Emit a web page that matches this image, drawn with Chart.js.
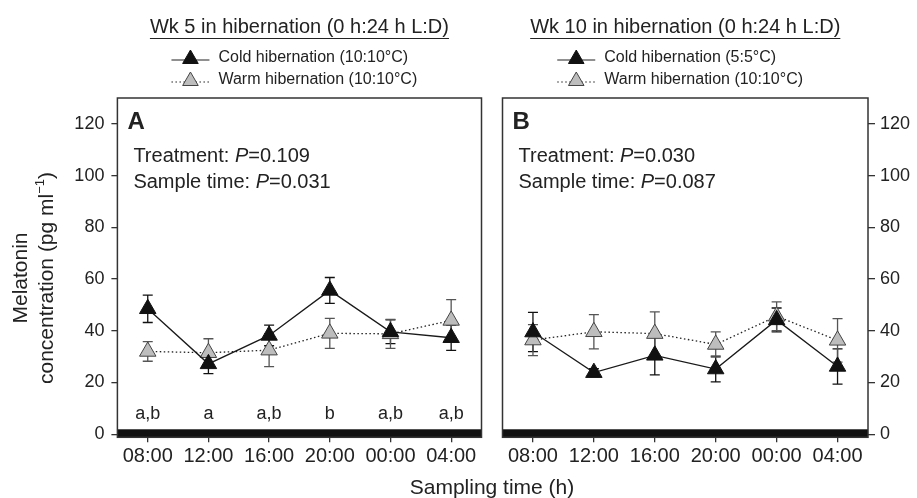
<!DOCTYPE html>
<html>
<head>
<meta charset="utf-8">
<script src="https://cdn.jsdelivr.net/npm/chart.js@4.4.1/dist/chart.umd.min.js"></script>
<style>
  body { margin: 0; background: #fff; }
  #wrap { position: relative; width: 917px; height: 498px; overflow: hidden; }
  #boxA { position: absolute; left: 0; top: 0; }
  #boxB { position: absolute; left: 492px; top: 0; }
  #xTitle { position: absolute; left: 342px; width: 300px; top: 475px; text-align: center;
            font: 21px 'Liberation Sans', Arial, Helvetica, sans-serif; line-height: 24px; color: #222; }
</style>
</head>
<body>
<div id="wrap">
  <div id="boxA"><canvas id="chartA" width="492" height="498"></canvas></div>
  <div id="boxB"><canvas id="chartB" width="425" height="498"></canvas></div>
  <div id="xTitle">Sampling time (h)</div>
</div>
<script>
// data
const times = ['08:00', '12:00', '16:00', '20:00', '00:00', '04:00'];
const yTicks = [0, 20, 40, 60, 80, 100, 120];

const coldA = [48.5, 27.2, 38.2, 55.6, 39.6, 37.3];
const coldAErr = [5.3, 3.8, 4.0, 5.0, 4.6, 4.9];
const warmA = [32.0, 31.5, 32.5, 39.0, 38.8, 44.0];
const warmAErr = [3.8, 5.4, 6.4, 5.8, 5.6, 8.0];

const coldB = [39.5, 23.8, 30.5, 25.2, 44.2, 26.2];
const coldBErr = [7.6, 1.5, 7.6, 5.0, 4.6, 6.8];
const warmB = [36.4, 39.6, 38.9, 34.7, 45.6, 36.3];
const warmBErr = [6.0, 6.6, 8.4, 4.9, 5.6, 8.4];

const lettersA = ['a,b', 'a', 'a,b', 'b', 'a,b', 'a,b'];

const FONT = "'Liberation Sans', Arial, Helvetica, sans-serif";
Chart.defaults.font.family = FONT;
Chart.defaults.color = '#222';

function coldSet(label, data, errors) {
    return {
        label: label, data: data, errors: errors, errorColor: '#111',
        borderColor: '#1a1a1a', borderWidth: 1.3, tension: 0,
        pointStyle: 'triangle', pointRadius: 9.5, pointHoverRadius: 9.5,
        pointBackgroundColor: '#111', pointBorderColor: '#111', pointBorderWidth: 1
    };
}

function warmSet(label, data, errors) {
    return {
        label: label, data: data, errors: errors, errorColor: '#555',
        borderColor: '#222', borderWidth: 1.3, borderDash: [1.5, 2.5], tension: 0,
        pointStyle: 'triangle', pointRadius: 9.5, pointHoverRadius: 9.5,
        pointBackgroundColor: '#bdbdbd', pointBorderColor: '#444', pointBorderWidth: 1
    };
}

// dark-phase bar along the bottom + error bars behind the markers
const backLayer = {
    id: 'backLayer',
    beforeDatasetsDraw(chart) {
        const { ctx, chartArea, scales: { y } } = chart;
        ctx.save();
        ctx.fillStyle = '#111';
        const barTop = y.getPixelForValue(1.9);
        ctx.fillRect(chartArea.left, barTop, chartArea.right - chartArea.left, chartArea.bottom - barTop);

        chart.data.datasets.forEach((ds, i) => {
            const meta = chart.getDatasetMeta(i);
            ctx.strokeStyle = ds.errorColor;
            ctx.lineWidth = 1.3;
            ds.data.forEach((v, j) => {
                const px = meta.data[j].x;
                const top = y.getPixelForValue(v + ds.errors[j]);
                const bot = y.getPixelForValue(v - ds.errors[j]);
                ctx.beginPath();
                ctx.moveTo(px, top); ctx.lineTo(px, bot);
                ctx.moveTo(px - 5, top); ctx.lineTo(px + 5, top);
                ctx.moveTo(px - 5, bot); ctx.lineTo(px + 5, bot);
                ctx.stroke();
            });
        });
        ctx.restore();
    }
};

function drawTri(ctx, x, y, r, fill, stroke) {
    ctx.beginPath();
    ctx.moveTo(x, y - r);
    ctx.lineTo(x + r * Math.sin(2 * Math.PI / 3), y + r / 2);
    ctx.lineTo(x - r * Math.sin(2 * Math.PI / 3), y + r / 2);
    ctx.closePath();
    ctx.fillStyle = fill; ctx.fill();
    ctx.strokeStyle = stroke; ctx.lineWidth = 1; ctx.stroke();
}

// frame, heading, legend, panel texts
const panelText = {
    id: 'panelText',
    afterDraw(chart, args, opts) {
        const { ctx, chartArea: a, scales: { x } } = chart;
        const cx = (a.left + a.right) / 2;
        ctx.save();

        ctx.strokeStyle = '#333';
        ctx.lineWidth = 1.5;
        ctx.strokeRect(a.left, a.top, a.right - a.left, a.bottom - a.top);

        // heading with underline
        ctx.fillStyle = '#222';
        ctx.font = '20px ' + FONT;
        ctx.textAlign = 'center';
        ctx.textBaseline = 'alphabetic';
        ctx.fillText(opts.title, cx, 33);
        const tw = ctx.measureText(opts.title).width;
        ctx.lineWidth = 1.2;
        ctx.strokeStyle = '#222';
        ctx.beginPath();
        ctx.moveTo(cx - tw / 2, 38.5); ctx.lineTo(cx + tw / 2, 38.5);
        ctx.stroke();

        // legend
        const lx = cx - 128;
        ctx.font = '16px ' + FONT;
        ctx.textAlign = 'left';
        ctx.textBaseline = 'middle';
        chart.data.datasets.forEach((ds, i) => {
            const ly = 58 + i * 22;
            ctx.strokeStyle = '#222';
            ctx.lineWidth = 1.2;
            ctx.setLineDash(ds.borderDash || []);
            ctx.beginPath(); ctx.moveTo(lx, ly + 2); ctx.lineTo(lx + 38, ly + 2); ctx.stroke();
            ctx.setLineDash([]);
            drawTri(ctx, lx + 19, ly + 1, 9, ds.pointBackgroundColor, ds.pointBorderColor);
            ctx.fillStyle = '#222';
            ctx.fillText(ds.label, lx + 47, ly);
        });

        // panel letter
        ctx.textBaseline = 'alphabetic';
        ctx.font = 'bold 24px ' + FONT;
        ctx.fillText(opts.letter, a.left + 10, 128.5);

        // statistics
        const stats = [['Treatment: ', opts.treatment, 162], ['Sample time: ', opts.sample, 187.5]];
        stats.forEach(([head, p, by]) => {
            let tx = a.left + 16;
            ctx.font = '20px ' + FONT;
            ctx.fillText(head, tx, by); tx += ctx.measureText(head).width;
            ctx.font = 'italic 20px ' + FONT;
            ctx.fillText('P', tx, by); tx += ctx.measureText('P').width;
            ctx.font = '20px ' + FONT;
            ctx.fillText('=' + p, tx, by);
        });

        // significance letters
        if (opts.letters) {
            ctx.font = '18px ' + FONT;
            ctx.textAlign = 'center';
            opts.letters.forEach((t, j) => ctx.fillText(t, x.getPixelForValue(j), 418.5));
        }

        // y axis title (two lines, rotated)
        if (opts.yTitle) {
            ctx.textBaseline = 'middle';
            ctx.font = '21px ' + FONT;
            ctx.save();
            ctx.translate(21, 278); ctx.rotate(-Math.PI / 2);
            ctx.textAlign = 'center';
            ctx.fillText('Melatonin', 0, 0);
            ctx.restore();

            ctx.save();
            ctx.translate(47, 278); ctx.rotate(-Math.PI / 2);
            ctx.textAlign = 'left';
            const p1 = 'concentration (pg ml', p2 = '\u22121', p3 = ')';
            ctx.font = '21px ' + FONT;
            const w1 = ctx.measureText(p1).width, w3 = ctx.measureText(p3).width;
            ctx.font = '13px ' + FONT;
            const w2 = ctx.measureText(p2).width;
            let sx = -(w1 + w2 + w3) / 2;
            ctx.font = '21px ' + FONT;
            ctx.fillText(p1, sx, 0); sx += w1;
            ctx.font = '13px ' + FONT;
            ctx.fillText(p2, sx, -7); sx += w2;
            ctx.font = '21px ' + FONT;
            ctx.fillText(p3, sx, 0);
            ctx.restore();
        }
        ctx.restore();
    }
};

function makeOptions(side, padding, yWidth, head) {
    return {
        responsive: false,
        animation: false,
        layout: { padding: padding },
        plugins: { legend: { display: false }, tooltip: { enabled: false }, panelText: head },
        scales: {
            x: {
                type: 'category', offset: true,
                grid: { offset: false, drawOnChartArea: false, drawTicks: true, tickLength: 5, color: '#333', lineWidth: 1.3 },
                border: { display: false },
                ticks: { font: { size: 20 }, padding: 2, maxRotation: 0, autoSkip: false, color: '#222' },
                afterFit: s => { s.height = 60.7; }
            },
            y: {
                position: side, min: -1.2, max: 130,
                afterBuildTicks: s => { s.ticks = yTicks.map(v => ({ value: v })); },
                grid: { drawOnChartArea: false, drawTicks: true, tickLength: side === 'left' ? 6 : 7, color: '#333', lineWidth: 1.3 },
                border: { display: false },
                ticks: { font: { size: 18 }, padding: side === 'left' ? 7 : 5, color: '#222' },
                afterFit: s => { s.width = yWidth; }
            }
        }
    };
}

new Chart(document.getElementById('chartA'), {
    type: 'line',
    data: {
        labels: times,
        datasets: [
            coldSet('Cold hibernation (10:10\u00b0C)', coldA, coldAErr),
            warmSet('Warm hibernation (10:10\u00b0C)', warmA, warmAErr)
        ]
    },
    options: makeOptions('left', { top: 98, right: 4, left: 0, bottom: 0 }, 117.4, {
        title: 'Wk 5 in hibernation (0 h:24 h L:D)', letter: 'A',
        treatment: '0.109', sample: '0.031', letters: lettersA, yTitle: true
    }),
    plugins: [backLayer, panelText]
});

new Chart(document.getElementById('chartB'), {
    type: 'line',
    data: {
        labels: times,
        datasets: [
            coldSet('Cold hibernation (5:5\u00b0C)', coldB, coldBErr),
            warmSet('Warm hibernation (10:10\u00b0C)', warmB, warmBErr)
        ]
    },
    options: makeOptions('right', { top: 98, right: 0, left: 4.5, bottom: 0 }, 49, {
        title: 'Wk 10 in hibernation (0 h:24 h L:D)', letter: 'B',
        treatment: '0.030', sample: '0.087', letters: null, yTitle: false
    }),
    plugins: [backLayer, panelText]
});
</script>
</body>
</html>
